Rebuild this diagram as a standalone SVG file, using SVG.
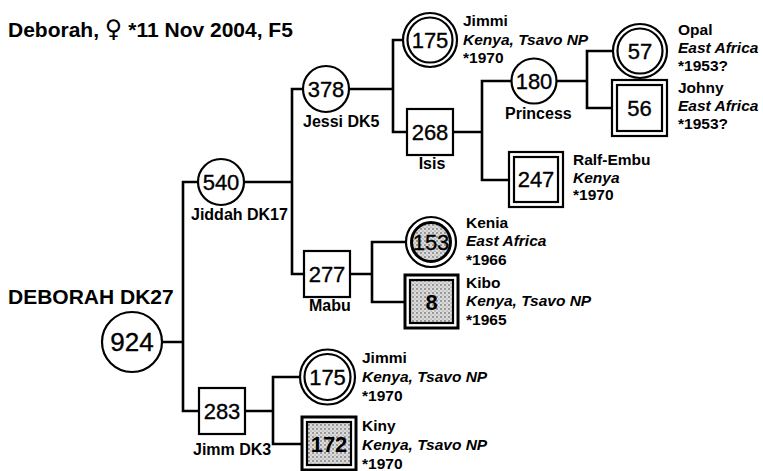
<svg xmlns="http://www.w3.org/2000/svg" width="763" height="471" viewBox="0 0 763 471">
<defs>
<style>
.bg{fill:#fff}
.nd{fill:#fff;stroke:#000;stroke-width:2.2}
.st{fill:url(#stip);stroke:#000;stroke-width:2.2}
.num{font-family:"Liberation Sans",Arial,sans-serif;font-size:22px;text-anchor:middle;fill:#000;stroke:#000;stroke-width:0.35}
.big{font-size:26px}
.nb{font-weight:bold;stroke-width:0}
.lbl{font-family:"Liberation Sans",Arial,sans-serif;font-size:15.5px;font-weight:bold;fill:#000}
.sub{font-size:16px}
.mid{text-anchor:middle}
.it{font-style:italic}
.title{font-family:"Liberation Sans","DejaVu Sans",sans-serif;font-size:21px;font-weight:bold;fill:#000}
.conn{fill:none;stroke:#000;stroke-width:2.6}
</style>
<pattern id="stip" width="4" height="4" patternUnits="userSpaceOnUse">
<rect width="4" height="4" fill="#dcdcdc"/>
<circle cx="1" cy="1" r="0.8" fill="#444"/>
<circle cx="3" cy="3" r="0.6" fill="#777"/>
</pattern>
</defs>
<rect class="bg" x="0" y="0" width="763" height="471"/>

<text class="title" x="8" y="37">Deborah, <tspan font-size="24" font-family="DejaVu Sans, sans-serif" font-weight="normal">♀</tspan> *11 Nov 2004, F5</text>

<g id="connectors">
<path class="conn" d="M162,342 H183 M197,182 H183 V411 H199"/>
<path class="conn" d="M244,182 H292 M303,89 H292 V274 H304"/>
<path class="conn" d="M349,89 H393 M403,40 H393 V132 H407"/>
<path class="conn" d="M453,132 H482 M512,81 H482 V180 H509"/>
<path class="conn" d="M556,81 H587 M613,51 H587 V108 H612"/>
<path class="conn" d="M350,274 H372 M406,242 H372 V302 H405"/>
<path class="conn" d="M245,411 H273 M300,377 H273 V444 H302"/>
</g>

<g id="n924">
<text class="title" x="8" y="304">DEBORAH DK27</text>
<circle class="nd" cx="132" cy="342" r="30"/>
<text class="num big" x="132" y="351">924</text>
</g>

<g id="n540">
<circle class="nd" cx="221" cy="182" r="23"/>
<text class="num" x="221" y="190">540</text>
<text class="lbl sub" x="191" y="220">Jiddah DK17</text>
</g>

<g id="n283">
<rect class="nd" x="199" y="388" width="46" height="46"/>
<text class="num" x="222" y="419">283</text>
<text class="lbl sub" x="193" y="455">Jimm DK3</text>
</g>

<g id="n378">
<circle class="nd" cx="326" cy="89" r="23"/>
<text class="num" x="326" y="97">378</text>
<text class="lbl sub" x="303" y="127">Jessi DK5</text>
</g>

<g id="n277">
<rect class="nd" x="304" y="251" width="46" height="46"/>
<text class="num" x="327" y="282">277</text>
<text class="lbl sub" x="309" y="311">Mabu</text>
</g>

<g id="n175a">
<circle class="nd" cx="430" cy="40" r="27"/>
<circle class="nd" cx="430" cy="40" r="22.5"/>
<text class="num" x="430" y="48">175</text>
<text class="lbl" x="463" y="26">Jimmi</text>
<text class="lbl it" x="463" y="44.5">Kenya, Tsavo NP</text>
<text class="lbl" x="463" y="63">*1970</text>
</g>

<g id="n268">
<rect class="nd" x="407" y="109" width="46" height="46"/>
<text class="num" x="430" y="140">268</text>
<text class="lbl sub mid" x="432" y="169">Isis</text>
</g>

<g id="n180">
<circle class="nd" cx="534" cy="81" r="22.5"/>
<text class="num" x="534" y="89">180</text>
<text class="lbl sub" x="505" y="119">Princess</text>
</g>

<g id="n57">
<circle class="nd" cx="640" cy="51" r="27"/>
<circle class="nd" cx="640" cy="51" r="22.5"/>
<text class="num" x="640" y="59">57</text>
<text class="lbl" x="678" y="35">Opal</text>
<text class="lbl it" x="678" y="53">East Africa</text>
<text class="lbl" x="678" y="71">*1953?</text>
</g>

<g id="n56">
<rect class="nd" x="612" y="80" width="55" height="56"/>
<rect class="nd" x="617" y="85" width="45" height="46"/>
<text class="num" x="639.5" y="116">56</text>
<text class="lbl" x="678" y="93">Johny</text>
<text class="lbl it" x="678" y="111">East Africa</text>
<text class="lbl" x="678" y="129">*1953?</text>
</g>

<g id="n247">
<rect class="nd" x="509" y="152" width="54" height="55"/>
<rect class="nd" x="514" y="157" width="44" height="45"/>
<text class="num" x="536" y="187">247</text>
<text class="lbl" x="573" y="165">Ralf-Embu</text>
<text class="lbl it" x="573" y="183">Kenya</text>
<text class="lbl" x="573" y="200">*1970</text>
</g>

<g id="n153">
<circle class="nd" cx="431" cy="242" r="25"/>
<circle class="st" cx="431" cy="242" r="19.5" style="stroke-width:3"/>
<text class="num" x="431" y="250">153</text>
<text class="lbl" x="466" y="228">Kenia</text>
<text class="lbl it" x="466" y="246">East Africa</text>
<text class="lbl" x="466" y="265">*1966</text>
</g>

<g id="n8">
<rect class="nd" x="405" y="275" width="53" height="53" style="stroke-width:3"/>
<rect class="st" x="410" y="280" width="43" height="43"/>
<text class="num nb" x="431.5" y="309.5">8</text>
<text class="lbl" x="466" y="288">Kibo</text>
<text class="lbl it" x="466" y="306">Kenya, Tsavo NP</text>
<text class="lbl" x="466" y="325">*1965</text>
</g>

<g id="n175b">
<circle class="nd" cx="327.5" cy="377" r="27.5"/>
<circle class="nd" cx="327.5" cy="377" r="23"/>
<text class="num" x="327.5" y="385">175</text>
<text class="lbl" x="362" y="363">Jimmi</text>
<text class="lbl it" x="362" y="382">Kenya, Tsavo NP</text>
<text class="lbl" x="362" y="401">*1970</text>
</g>

<g id="n172">
<rect class="nd" x="302" y="417" width="54" height="53" style="stroke-width:3"/>
<rect class="st" x="307" y="422" width="44" height="43"/>
<text class="num nb" x="329" y="452">172</text>
<text class="lbl" x="362" y="431">Kiny</text>
<text class="lbl it" x="362" y="450">Kenya, Tsavo NP</text>
<text class="lbl" x="362" y="469">*1970</text>
</g>
</svg>
